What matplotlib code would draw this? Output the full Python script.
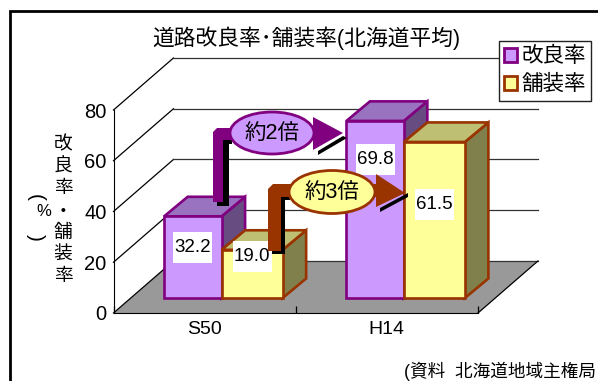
import matplotlib
matplotlib.use("Agg")
import matplotlib.pyplot as plt
from matplotlib.patches import Polygon, Ellipse, Patch, Rectangle

plt.rcParams['font.family'] = ['Liberation Sans', 'Noto Sans CJK JP']

# data
categories = ["S50", "H14"]
kairyo = [32.2, 69.8]
hosou = [19.0, 61.5]
y_ticks = [0, 20, 40, 60, 80]

W, H = 598, 381
PURPLE = ("#CC99FF", "#9973BF", "#664C80", "#800080")
YELLOW = ("#FFFF99", "#BFBF73", "#80804C", "#993300")

fig = plt.figure(figsize=(W / 100, H / 100), dpi=100)
ax = fig.add_axes([113.5 / W, 1 - 313 / H, 364.5 / W, 203 / H])
ax.set_xlim(0, 2)
ax.set_ylim(0, 80)
ax.patch.set_visible(False)

# overlay in pixels for annotations
ov = fig.add_axes([0, 0, 1, 1])
ov.set_xlim(0, W)
ov.set_ylim(H, 0)
ov.axis("off")
ov.patch.set_visible(False)

# depth of the fake 3d box, in data units
wall_dx, wall_dy = 0.329, 20.5
base_dx, base_dy = 0.093, 5.9
kairyo_w, hosou_w = 0.315, 0.335
bar_dx, bar_dy = 0.129, 7.7

ax.add_patch(Polygon([(0, 0), (2, 0), (2 + wall_dx, wall_dy), (wall_dx, wall_dy)],
                     fc="#999999", ec="none", clip_on=False, zorder=1))
for t in y_ticks:
    ax.plot([0, wall_dx], [t, t + wall_dy], color="black", lw=0.9, clip_on=False, zorder=2)
    ax.plot([wall_dx, 2 + wall_dx], [t + wall_dy, t + wall_dy], color="#333333", lw=0.9,
            clip_on=False, zorder=2)
ax.plot([2, 2 + wall_dx], [0, wall_dy], color="black", lw=0.9, clip_on=False, zorder=2)


def draw_bar(x0, bar_w, v, colors, z):
    front, top, side, edge = colors
    x0 = x0 + base_dx
    y0 = base_dy
    x1 = x0 + bar_w
    y1 = y0 + v
    kw = dict(ec=edge, lw=1.9, joinstyle="miter", clip_on=False, zorder=z)
    ax.add_patch(Polygon([(x1, y0), (x1 + bar_dx, y0 + bar_dy), (x1 + bar_dx, y1 + bar_dy), (x1, y1)], fc=side, **kw))
    ax.add_patch(Polygon([(x0, y1), (x0 + bar_dx, y1 + bar_dy), (x1 + bar_dx, y1 + bar_dy), (x1, y1)], fc=top, **kw))
    ax.add_patch(Polygon([(x0, y0), (x1, y0), (x1, y1), (x0, y1)], fc=front, **kw))
    return (x0 + x1) / 2, y1


# value labels were dragged around by hand in the original
label_drop = [31, 7, 39, 63]
z = 3
n = 0
for i in range(len(categories)):
    for vals, cols, bw, left in ((kairyo, PURPLE, kairyo_w, i + 0.5 - kairyo_w), (hosou, YELLOW, hosou_w, i + 0.5)):
        cx, top_y = draw_bar(left, bw, vals[i], cols, z)
        # label box is taller than the text, so draw it apart
        px, py = ov.transData.inverted().transform(ax.transData.transform((cx, top_y)))
        py += label_drop[n]
        ov.add_patch(Rectangle((px - 19.5, py - 15.5), 39, 31, fc="white", ec="none", zorder=8))
        ov.text(px, py, f"{vals[i]:.1f}", ha="center", va="center", fontsize=13.5, zorder=9)
        z += 1
        n += 1

ax.spines["top"].set_visible(False)
ax.spines["right"].set_visible(False)
ax.set_yticks(y_ticks)
ax.tick_params(axis="y", length=0, labelsize=14.5, pad=5)
ax.set_xticks([0, 1, 2])
ax.set_xticklabels([])
ax.tick_params(axis="x", which="major", direction="in", length=5, width=0.9)
ax.set_xticks([0.5, 1.5], minor=True)
ax.set_xticklabels(categories, minor=True, fontsize=14)
ax.tick_params(axis="x", which="minor", length=0, pad=6)

# frame around the chart
ov.plot([10, 10, W], [H, 10.5, 10.5], color="black", lw=2, solid_joinstyle="miter")

ov.text(306, 38, "道路改良率･舗装率(北海道平均)", ha="center", va="center", fontsize=15.7)

# axis title, stacked by hand
for ch, y in zip("改良率・舗装率", [145, 167, 189, 212, 233, 255, 277]):
    ov.text(63, y, ch, ha="center", va="center", fontsize=13.5)
ov.text(35.5, 198, "(", rotation=-90, ha="center", va="center", fontsize=15)
ov.text(43.5, 212, "%", ha="center", va="center", fontsize=12)
ov.text(35.5, 237, ")", rotation=-90, ha="center", va="center", fontsize=15)

ov.text(596, 371.5, "(資料  北海道地域主権局", ha="right", va="center", fontsize=12.7)

# arrows with callouts
ov.add_patch(Polygon([(217, 202), (223, 202), (223, 140), (232, 140), (232, 144), (229, 144),
                      (229, 206), (217, 206)], fc="black", ec="none", zorder=10))
ov.add_patch(Polygon([(343, 136), (347, 138), (318, 155), (318, 151)], fc="black", ec="none", zorder=10))
ov.add_patch(Polygon([(213, 202), (213, 132), (217, 128), (313, 128), (313, 117), (343, 133),
                      (313, 150), (313, 140), (223, 140), (223, 202)],
                     fc="#800080", ec="none", zorder=11))
ov.add_patch(Ellipse((272, 133), 84, 42, fc="#CC99FF", ec="#800080", lw=2, zorder=12))
ov.text(272, 134, "約2倍", ha="center", va="center", fontsize=15.5, zorder=13)

ov.add_patch(Polygon([(272, 251), (281, 251), (281, 197), (290, 197), (290, 200), (285, 200),
                      (285, 254), (272, 254)], fc="black", ec="none", zorder=14))
ov.add_patch(Polygon([(408, 193), (408, 197), (380, 212), (380, 208)], fc="black", ec="none", zorder=14))
ov.add_patch(Polygon([(268, 251), (268, 189), (273, 184), (376, 184), (376, 174), (405, 193),
                      (376, 207), (376, 197), (281, 197), (281, 251)],
                     fc="#993300", ec="none", zorder=15))
ov.add_patch(Ellipse((332, 192), 86, 43, fc="#FFFF99", ec="#993300", lw=2, zorder=16))
ov.text(332, 193, "約3倍", ha="center", va="center", fontsize=15.5, zorder=17)

handles = [Patch(fc=PURPLE[0], ec=PURPLE[3], lw=2, label="改良率"),
           Patch(fc=YELLOW[0], ec=YELLOW[3], lw=2, label="舗装率")]
leg = ov.legend(handles=handles, loc="upper left", bbox_to_anchor=(499, 41),
                bbox_transform=ov.transData, borderaxespad=0, fontsize=15.5, fancybox=False,
                framealpha=1, edgecolor="#222222", handlelength=0.6, handleheight=0.6,
                handletextpad=0.2, labelspacing=0.32, borderpad=0.25)
leg.get_frame().set_linewidth(1)
leg.set_zorder(20)

fig.savefig("out.png", dpi=100)
